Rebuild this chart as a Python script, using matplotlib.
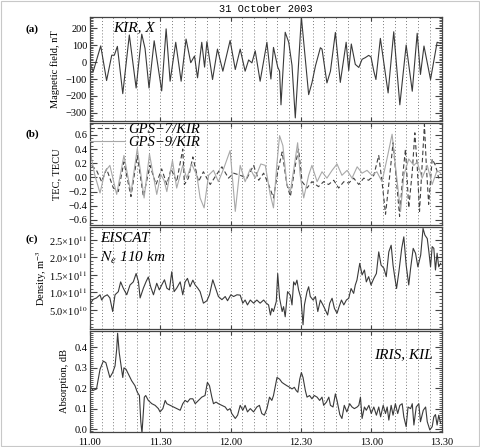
import matplotlib
matplotlib.use('Agg')
import matplotlib.pyplot as plt
from matplotlib.ticker import MultipleLocator, FixedLocator
from matplotlib.patches import Rectangle
import numpy as np

plt.rcParams['font.family'] = ['Liberation Serif', 'DejaVu Serif']
plt.rcParams['mathtext.fontset'] = 'stix'

# time in minutes after 11:00 UT, 31 October 2003
x_ticks = [0, 30, 60, 90, 120, 150]
x_ticklabels = ['11.00', '11.30', '12.00', '12.30', '13.00', '13.30']

# (a) magnetic field X, KIR (nT)
mag_t = [0.3, 1.4, 4.6, 7.1, 9.3, 10.4, 11.7, 14.0, 16.8, 19.7, 22.1, 23.5, 25.2, 27.4,
         30.6, 32.5, 34.2, 36.6, 38.9, 41.0, 43.0, 44.6, 45.9, 47.7, 48.9, 49.9, 52.3,
         54.4, 56.7, 59.8, 62.0, 64.1, 66.2, 67.7, 69.1, 70.5, 72.6, 75.5, 77.2, 78.3,
         80.1, 80.9, 81.5, 83.3, 84.8, 86.2, 87.6, 90.2, 93.3, 94.7, 96.2, 98.3, 99.0,
         101.1, 102.6, 104.7, 106.8, 109.3, 110.4, 111.5, 113.2, 114.7, 116.1, 117.5,
         118.9, 119.9, 121.1, 122.0, 123.9, 127.2, 129.6, 132.2, 134.9, 137.5, 139.6,
         141.0, 142.5, 145.3, 148.1, 149.6]
mag_x = [-20, -55, 95, -109, 40, 40, 92, -186, 159, -153, 164, 80, -153, 125,
         -170, 195, -113, 116, -113, 135, -4, 35, -93, 116, -30, 120, -103,
         76, -54, 127, -44, 76, -54, 12, -5, 66, -113, 116, -100, 86,
         -30, -54, -252, 175, 116, -20, -329, 264, -192, -123, -23, 84, 76,
         -123, -54, 174, -120, 116, -50, 106, -14, -32, 16, 26,
         39, 30, -54, -103, 139, -182, 178, -252, 100, -172, 169,
         -73, 94, -103, 116, 110]

# (b) TEC, GPS-7/KIR (dashed) and GPS-9/KIR (solid), TECU
gps7_t = [0.7, 2.8, 5.0, 7.1, 10.0, 12.1, 14.5, 17.5, 20.2, 22.8, 25.6, 28.2, 30.6, 32.8,
          34.6, 37.0, 39.6, 40.3, 42.0, 43.9, 46.3, 48.4, 51.3, 53.8, 56.3, 59.1, 61.3,
          64.1, 67.0, 69.8, 72.0, 74.1, 76.2, 78.3, 80.1, 82.0, 84.0, 85.5, 87.6, 89.0,
          90.5, 92.6, 94.7, 97.5, 99.7, 101.8, 104.0, 106.1, 108.3, 110.4, 112.5, 114.7,
          116.8, 118.9, 121.1, 123.2, 124.6, 126.1, 127.9, 129.3, 130.8, 132.1, 133.6,
          134.6, 136.0, 137.5, 138.6, 139.6, 140.6, 141.7, 142.7, 143.5, 144.5, 146.0,
          147.4, 148.8, 149.6]
gps7_tec = [0.17, 0.10, -0.06, 0.12, -0.15, -0.20, 0.22, -0.27, 0.31, -0.27, 0.17, -0.10,
            0.12, -0.10, 0.12, -0.06, 0.40, -0.10, -0.01, 0.29, -0.06, 0.08, -0.10, 0.03,
            0.15, -0.01, 0.06, 0.03, -0.01, 0.17, -0.04, 0.06, -0.10, -0.29, 0.08, 0.36,
            -0.10, -0.27, 0.17, 0.40, -0.06, -0.15, -0.06, -0.13, -0.06, -0.10, -0.04,
            -0.15, -0.06, -0.08, -0.01, -0.10, -0.01, -0.04, 0.03, 0.31, -0.06, -0.52,
            0.03, 0.49, -0.06, -0.55, 0.08, 0.40, -0.43, 0.08, 0.63, 0.17, -0.48, 0.17,
            0.75, 0.17, -0.38, 0.26, 0.17, -0.01, 0.03]
gps9_t = [0.3, 2.1, 4.3, 6.4, 8.5, 11.4, 14.5, 17.5, 20.2, 23.1, 25.4, 28.5, 30.2, 31.6,
          32.8, 35.2, 37.0, 39.6, 41.3, 43.4, 45.6, 47.0, 48.7, 50.6, 52.7, 54.8, 57.0,
          59.8, 62.0, 64.1, 66.2, 68.4, 70.5, 72.9, 74.8, 76.9, 78.3, 79.7, 80.9, 82.3,
          84.0, 85.5, 87.2, 88.6, 89.7, 91.2, 93.3, 94.7, 96.9, 99.0, 101.1, 103.3, 105.4,
          107.5, 109.7, 111.8, 114.0, 116.1, 118.2, 120.3, 122.4, 124.6, 126.7, 128.9,
          130.3, 132.5, 133.9, 136.0, 138.2, 139.6, 141.7, 143.9, 146.0, 148.1, 149.6]
gps9_tec = [0.33, 0.03, -0.22, 0.08, 0.17, -0.24, 0.31, -0.22, 0.41, -0.29, 0.33, -0.24,
            0.04, -0.04, -0.20, 0.24, -0.15, 0.17, -0.01, 0.19, 0.03, -0.29, -0.43, 0.03,
            0.10, -0.06, 0.12, 0.38, -0.48, 0.17, -0.06, 0.12, -0.01, 0.19, 0.17, -0.24,
            -0.43, 0.17, 0.59, 0.45, -0.10, -0.20, 0.17, 0.49, 0.03, -0.29, 0.03, 0.17,
            -0.06, 0.08, -0.01, 0.10, 0.19, 0.03, 0.10, -0.01, 0.15, 0.06, 0.10, 0.03,
            0.08, -0.06, 0.26, 0.61, 0.17, -0.48, 0.03, 0.26, 0.17, 0.22, -0.01, 0.17,
            -0.10, 0.10, 0.06]

# (c) EISCAT electron density at 110 km (units of 1e11 m^-3)
ne_t = [0.3, 1.4, 2.8, 4.3, 5.0, 6.0, 7.4, 8.5, 9.7, 10.7, 12.1, 13.1, 14.2, 15.7, 17.1,
        18.5, 19.7, 20.7, 21.4, 22.8, 23.9, 24.9, 25.9, 27.1, 28.5, 29.6, 30.6, 31.8,
        32.8, 33.9, 34.9, 35.9, 37.0, 38.5, 39.6, 40.6, 41.6, 42.7, 43.9, 44.9, 46.0,
        47.0, 48.4, 49.9, 51.0, 52.4, 53.4, 54.8, 56.3, 57.7, 58.7, 60.1, 61.3, 62.7,
        64.1, 65.2, 66.2, 67.2, 68.4, 69.8, 71.2, 72.6, 74.1, 75.2, 76.2, 77.0, 77.6,
        78.3, 79.5, 80.1, 80.9, 82.0, 82.6, 83.3, 84.3, 85.5, 86.2, 86.9, 87.6, 88.3,
        89.0, 90.0, 90.9, 91.5, 92.6, 93.3, 94.0, 95.2, 96.2, 97.2, 98.3, 99.4, 100.4,
        101.4, 102.3, 103.3, 104.3, 105.4, 106.3, 107.3, 108.3, 109.4, 110.4, 111.4,
        112.5, 113.2, 113.9, 115.1, 116.1, 117.1, 117.9, 118.9, 119.9, 121.1, 122.2,
        123.2, 124.2, 125.4, 126.4, 127.5, 128.5, 129.3, 130.0, 130.8, 131.8, 133.0,
        133.9, 134.9, 136.0, 136.8, 137.9, 138.9, 139.9, 141.1, 142.1, 142.9, 143.9,
        144.6, 145.3, 146.0, 146.7, 147.4, 148.1, 148.8, 149.6]
ne_val = [0.69, 0.80, 0.84, 0.93, 0.78, 0.88, 0.93, 0.84, 0.45, 0.93, 1.02, 1.30, 1.12,
          0.93, 1.21, 1.30, 1.54, 1.30, 0.84, 1.12, 1.30, 1.44, 1.16, 0.93, 1.26, 1.07,
          1.21, 1.36, 1.12, 1.07, 1.59, 1.02, 1.12, 1.30, 0.93, 1.30, 1.40, 1.16, 1.35,
          1.21, 1.12, 1.02, 0.69, 0.76, 0.93, 1.36, 1.16, 0.88, 0.79, 0.88, 0.76, 0.93,
          0.88, 0.93, 0.92, 0.69, 0.78, 0.64, 0.78, 0.69, 0.78, 0.69, 0.78, 0.69, 0.64,
          0.35, 0.54, 0.45, 0.74, 1.54, 0.83, 0.45, 0.59, 0.30, 1.02, 0.92, 0.64, 1.30,
          1.21, 1.35, 1.07, 0.83, 0.07, 0.64, 1.02, 1.16, 0.88, 0.78, 0.88, 0.45, 0.78,
          0.64, 0.50, 0.35, 0.69, 0.83, 0.54, 0.40, 0.59, 0.78, 0.64, 0.78, 0.83, 1.11,
          0.97, 1.21, 1.35, 1.83, 1.50, 1.64, 1.30, 1.45, 1.21, 1.40, 1.54, 2.16, 1.78,
          1.69, 1.45, 2.16, 2.35, 1.78, 1.45, 1.11, 1.59, 2.26, 2.59, 1.78, 1.21, 1.69,
          2.26, 2.12, 1.73, 2.07, 2.83, 2.64, 2.54, 2.16, 1.73, 2.31, 2.26, 1.64, 2.12,
          1.73, 1.83]

# (d) IRIS riometer absorption, KIL (dB)
abs_t = [0.3, 1.4, 2.8, 4.3, 5.7, 6.8, 8.5, 9.7, 10.7, 11.4, 11.8, 12.5, 13.1, 14.0, 14.5,
         15.4, 16.4, 17.8, 19.2, 20.2, 21.1, 21.7, 22.2, 22.8, 23.2, 23.8, 24.9, 26.4,
         27.8, 29.2, 29.9, 31.1, 32.1, 32.8, 34.2, 35.6, 37.0, 38.5, 39.6, 40.6, 41.6,
         42.7, 43.9, 44.9, 46.3, 47.7, 49.1, 50.1, 51.0, 52.0, 52.7, 53.8, 54.8, 56.3,
         57.7, 58.7, 59.8, 60.5, 62.0, 63.0, 64.1, 65.2, 66.2, 67.2, 68.4, 69.8, 71.2,
         72.3, 73.3, 74.4, 75.5, 76.6, 77.6, 78.3, 79.1, 79.8, 80.9, 81.9, 82.9, 84.0,
         85.2, 86.2, 87.2, 88.0, 88.7, 89.5, 90.2, 90.9, 91.9, 92.6, 93.7, 94.7, 95.7,
         96.9, 98.0, 99.0, 99.7, 100.9, 101.9, 102.6, 103.7, 104.7, 105.4, 106.6, 107.5,
         108.5, 109.6, 110.8, 111.8, 112.8, 114.0, 114.7, 115.4, 116.1, 117.1, 117.9,
         119.0, 120.0, 121.1, 122.2, 123.2, 124.0, 125.1, 126.1, 126.8, 127.5, 128.5,
         129.3, 130.3, 131.3, 132.2, 133.2, 133.9, 134.9, 135.7, 136.8, 137.5, 138.2,
         139.2, 140.3, 141.0, 142.2, 143.2, 143.9, 145.0, 146.0, 146.7, 147.4, 148.1,
         148.8, 149.6]
abs_db = [0.205, 0.19, 0.197, 0.293, 0.333, 0.325, 0.253, 0.277, 0.309, 0.39, 0.469,
          0.373, 0.325, 0.253, 0.30, 0.293, 0.27, 0.237, 0.213, 0.181, 0.165, 0.037,
          -0.019, 0.085, 0.157, 0.165, 0.141, 0.125, 0.117, 0.101, 0.085, 0.101, 0.141,
          0.125, 0.117, 0.109, 0.101, 0.093, 0.125, 0.141, 0.133, 0.149, 0.149, 0.125,
          0.141, 0.157, 0.165, 0.229, 0.213, 0.157, 0.125, 0.133, 0.125, 0.117, 0.109,
          0.093, 0.101, 0.077, 0.053, 0.069, 0.117, 0.093, 0.117, 0.085, 0.101, 0.085,
          0.109, 0.117, 0.077, 0.069, 0.101, 0.157, 0.141, 0.165, 0.213, 0.253, 0.245,
          0.229, 0.221, 0.213, 0.205, 0.197, 0.205, 0.189, 0.181, 0.245, 0.277, 0.253,
          0.189, 0.157, 0.165, 0.149, 0.165, 0.157, 0.141, 0.157, 0.117, 0.133, 0.157,
          0.117, 0.109, 0.173, 0.141, 0.072, 0.053, 0.117, 0.085, 0.125, 0.109, 0.101,
          0.109, 0.117, 0.157, 0.053, 0.109, 0.093, 0.117, 0.077, 0.109, 0.069, 0.109,
          0.061, 0.117, 0.077, 0.109, 0.045, 0.117, 0.069, 0.125, 0.077, 0.117, 0.125,
          0.061, 0.013, 0.109, 0.101, 0.125, 0.021, 0.109, 0.125, 0.037, 0.093, 0.109,
          0.037, -0.003, 0.013, 0.061, 0.072, 0.021, 0.069, 0.029]

ne_ticks = [0.5e11, 1.0e11, 1.5e11, 2.0e11, 2.5e11]
ne_ticklabels = ['5.0×10$^{10}$', '1.0×10$^{11}$', '1.5×10$^{11}$',
                 '2.0×10$^{11}$', '2.5×10$^{11}$']

line_c = '#3a3a3a'
grid_c = '#7a7a7a'

fig = plt.figure(figsize=(4.81, 4.47), dpi=100)
fig.patches.append(Rectangle((0.002, 0.002), 0.994, 0.995, transform=fig.transFigure,
                             fill=False, edgecolor='#c8c8c8', lw=0.8))

left, width = 0.187, 0.731
boxes = [(0.729, 0.233), (0.497, 0.228), (0.264, 0.228), (0.0336, 0.226)]
axes = [fig.add_axes([left, b, width, h]) for b, h in boxes]

for ax in axes:
    ax.set_xlim(0, 150)
    ax.xaxis.set_major_locator(FixedLocator(x_ticks))
    ax.xaxis.set_minor_locator(MultipleLocator(5))
    ax.grid(True, which='both', axis='x', color=grid_c, ls=(0, (1, 2.2)), lw=0.7)
    ax.tick_params(axis='x', which='minor', length=0)
    ax.tick_params(axis='x', which='major', direction='in', length=3, top=True,
                   labelsize=7.5, color='#444444')
    ax.tick_params(axis='y', which='both', direction='in', left=True, right=True,
                   labelsize=7.5, pad=2, color='#444444')
    ax.tick_params(axis='y', which='major', length=5)
    ax.tick_params(axis='y', which='minor', length=2.5, width=0.6)
    for s in ax.spines.values():
        s.set_color('#444444')
        s.set_linewidth(0.9)
    if ax is not axes[-1]:
        ax.tick_params(axis='x', labelbottom=False)

axes[-1].set_xticklabels(x_ticklabels)
axes[-1].tick_params(axis='x', pad=4)

# (a)
ax = axes[0]
ax.plot(mag_t, mag_x, color=line_c, lw=0.8)
ax.set_ylim(-348, 265)
ax.yaxis.set_major_locator(MultipleLocator(100))
ax.yaxis.set_minor_locator(MultipleLocator(10))
ax.set_ylabel('Magnetic field, nT', fontsize=7.5)
ax.yaxis.set_label_coords(-0.0996, 0.5)
ax.text(0.065, 0.9, 'KIR, X', transform=ax.transAxes, fontsize=11, style='italic',
        va='center', ha='left')

# (b)
ax = axes[1]
ax.plot(gps7_t, gps7_tec, color='#404040', lw=0.8, ls=(0, (4, 2.5)), label='GPS−7/KIR')
ax.plot(gps9_t, gps9_tec, color='#a8a8a8', lw=0.8, label='GPS−9/KIR')
ax.set_ylim(-0.67, 0.77)
ax.yaxis.set_major_locator(MultipleLocator(0.2))
ax.yaxis.set_minor_locator(MultipleLocator(0.05))
ax.set_ylabel('TEC, TECU', fontsize=7.5)
ax.yaxis.set_label_coords(-0.094, 0.5)
ax.legend(loc='upper left', bbox_to_anchor=(0.0, 1.0), frameon=False,
          prop={'style': 'italic', 'size': 10.5}, handlelength=2.4, handletextpad=0.25,
          labelspacing=0.0, borderaxespad=0, borderpad=0)

# (c)
ax = axes[2]
ax.plot(ne_t, np.array(ne_val) * 1e11, color=line_c, lw=0.8)
ax.set_ylim(-0.05e11, 2.87e11)
ax.yaxis.set_major_locator(FixedLocator(ne_ticks))
ax.set_yticklabels(ne_ticklabels)
ax.yaxis.set_minor_locator(MultipleLocator(0.1e11))
ax.set_ylabel('Density, m$^{-3}$', fontsize=7.5)
ax.yaxis.set_label_coords(-0.139, 0.5)
ax.text(0.028, 0.885, 'EISCAT', transform=ax.transAxes, fontsize=11, style='italic',
        va='center', ha='left')
ax.text(0.028, 0.70, '$N_e$ 110 km', transform=ax.transAxes, fontsize=11, style='italic',
        va='center', ha='left')

# (d)
ax = axes[3]
ax.plot(abs_t, abs_db, color=line_c, lw=0.8)
ax.set_ylim(-0.013, 0.48)
ax.yaxis.set_major_locator(MultipleLocator(0.1))
ax.yaxis.set_minor_locator(MultipleLocator(0.01))
ax.set_ylabel('Absorption, dB', fontsize=7.5)
ax.yaxis.set_label_coords(-0.0712, 0.5)
ax.text(0.975, 0.77, 'IRIS, KIL', transform=ax.transAxes, fontsize=11, style='italic',
        va='center', ha='right')

for ax in axes:
    ax.yaxis.label.set_va('center')

for lab, y in zip(['(a)', '(b)', '(c)'], [29, 134, 239]):
    fig.text(32 / 481, 1 - y / 447, lab, fontsize=8, fontweight='bold', ha='center',
             va='center')

fig.text(265.5 / 481, 1 - 9 / 447, '31 October 2003', family='Liberation Mono',
         fontsize=7.5, ha='center', va='center')

fig.savefig('out.png', dpi=100)
